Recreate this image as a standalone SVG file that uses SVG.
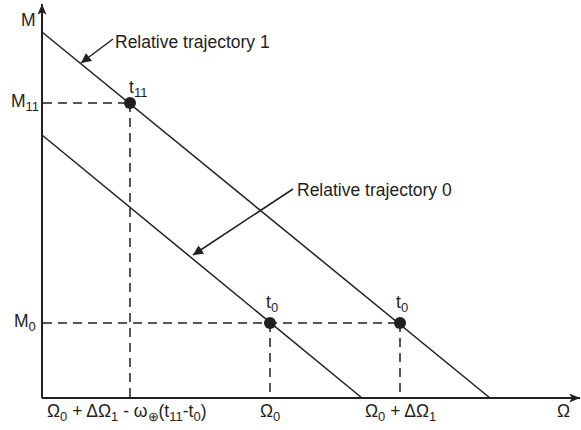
<svg xmlns="http://www.w3.org/2000/svg" width="581" height="430" viewBox="0 0 581 430">
<defs>
<marker id="ah" viewBox="0 0 10 10" refX="10" refY="5" markerWidth="10" markerHeight="10" markerUnits="userSpaceOnUse" orient="auto">
<path d="M0,0 L10,5 L0,10 z" fill="#231f20"/>
</marker>
<marker id="ah2" viewBox="0 0 12 10" refX="12" refY="5" markerWidth="12" markerHeight="9" markerUnits="userSpaceOnUse" orient="auto">
<path d="M0,0 L12,5 L0,10 L3,5 z" fill="#231f20"/>
</marker>
<style>
text{font-family:"Liberation Sans",Arial,sans-serif;font-size:17.5px;fill:#231f20}
.sub{font-size:13px}
.ax{stroke:#231f20;stroke-width:2;fill:none}
.ln{stroke:#231f20;stroke-width:1.5;fill:none}
.da{stroke:#231f20;stroke-width:1.5;fill:none;stroke-dasharray:9 6}
.dot{fill:#231f20}
</style>
</defs>
<g id="connectors">
<line class="ax" x1="42" y1="398" x2="42" y2="4" marker-end="url(#ah2)"/>
<line class="ax" x1="42" y1="398" x2="580" y2="398" marker-end="url(#ah2)"/>
<line class="ln" x1="42" y1="32" x2="490" y2="398"/>
<line class="ln" x1="42" y1="135" x2="362" y2="398"/>
<line class="da" x1="43" y1="103" x2="130" y2="103"/>
<line class="da" x1="130" y1="103" x2="130" y2="397"/>
<line class="da" x1="43" y1="323" x2="400" y2="323"/>
<line class="da" x1="270" y1="323" x2="270" y2="397"/>
<line class="da" x1="400" y1="323" x2="400" y2="397"/>
<line class="ln" x1="113" y1="39" x2="81" y2="63" marker-end="url(#ah)"/>
<line class="ln" x1="293" y1="189" x2="193" y2="255" marker-end="url(#ah)"/>
</g>
<g id="t11"><circle class="dot" cx="130" cy="103" r="6"/><text x="129" y="93">t<tspan class="sub" dy="4">11</tspan></text></g>
<g id="t0a"><circle class="dot" cx="270" cy="323" r="6"/><text x="266" y="308">t<tspan class="sub" dy="4">0</tspan></text></g>
<g id="t0b"><circle class="dot" cx="400" cy="323" r="6"/><text x="396" y="308">t<tspan class="sub" dy="4">0</tspan></text></g>
<g id="labels">
<text x="21" y="26">M</text>
<text x="11" y="107">M<tspan class="sub" dy="4">11</tspan></text>
<text x="14" y="327">M<tspan class="sub" dy="4">0</tspan></text>
<text x="115" y="48">Relative trajectory 1</text>
<text x="297" y="196">Relative trajectory 0</text>
<text x="47" y="417">Ω<tspan class="sub" dy="4">0</tspan><tspan dy="-4"> + ΔΩ</tspan><tspan class="sub" dy="4">1</tspan><tspan dy="-4"> - ω</tspan><tspan class="sub" dy="4" font-size="9px">⊕</tspan><tspan dy="-4">(t</tspan><tspan class="sub" dy="4">11</tspan><tspan dy="-4">-t</tspan><tspan class="sub" dy="4">0</tspan><tspan dy="-4">)</tspan></text>
<text x="260" y="417">Ω<tspan class="sub" dy="4">0</tspan></text>
<text x="365" y="417">Ω<tspan class="sub" dy="4">0</tspan><tspan dy="-4"> + ΔΩ</tspan><tspan class="sub" dy="4">1</tspan></text>
<text x="557" y="417">Ω</text>
</g>
</svg>
